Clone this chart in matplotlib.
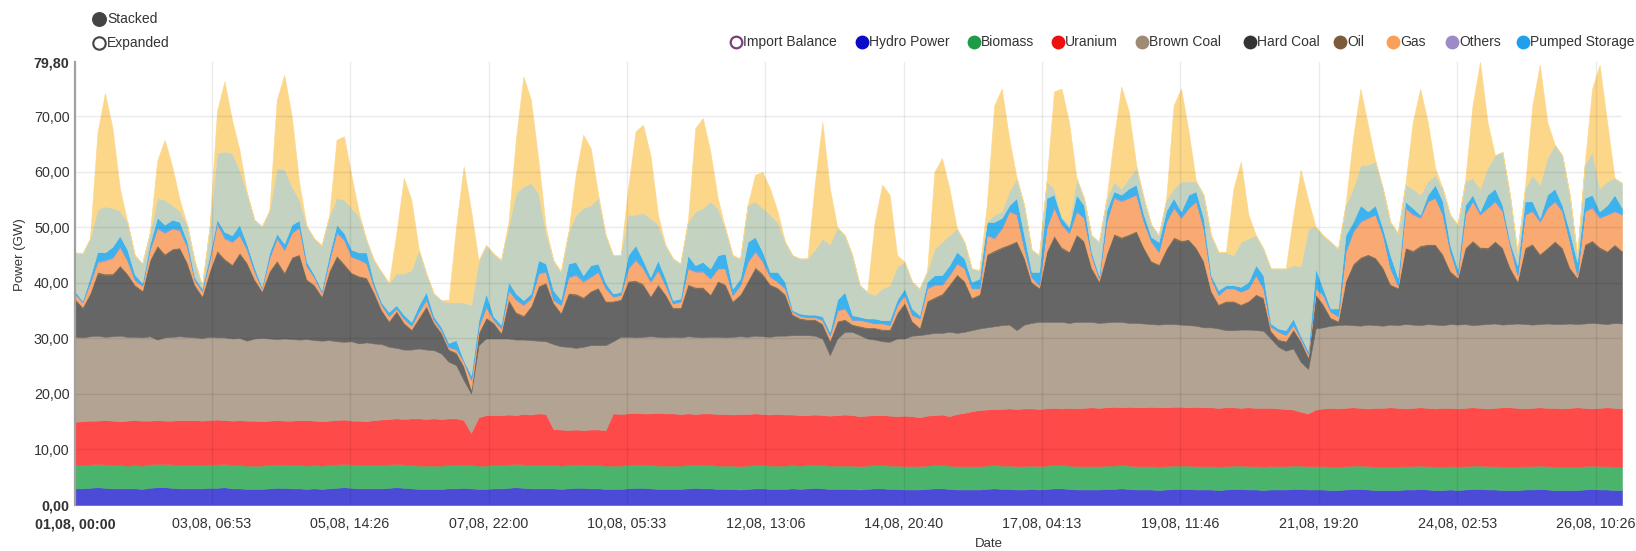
import numpy as np
import matplotlib
matplotlib.use("Agg")
import matplotlib.pyplot as plt

plt.rcParams['font.family'] = ['Liberation Sans', 'DejaVu Sans']

# ---------------- data (GW, every 3 hours from 01.08 00:00) -------------
hours = list(range(0, 622, 3))

# upper edge of each stacked band (cumulative), 8 readings per day
hydro_top = [
 3.0,3.0,3.1,3.2,3.1,3.0,3.0,3.0,  3.0,2.9,3.1,3.2,3.2,3.1,3.0,3.0,
 3.0,3.0,3.1,3.1,3.2,3.0,3.0,2.9,  2.9,2.9,3.0,3.1,3.1,3.0,3.0,2.9,
 3.0,2.9,3.0,3.1,3.2,3.1,3.0,3.0,  3.0,3.0,3.1,3.2,3.1,3.0,2.9,2.9,
 2.9,2.9,3.0,3.0,3.1,3.0,2.9,2.9,  3.0,3.0,3.1,3.2,3.1,3.0,3.0,3.0,
 3.0,2.9,3.0,3.1,3.1,3.0,3.0,2.9,  2.9,2.9,3.0,3.1,3.1,3.0,2.9,2.9,
 2.9,2.9,3.0,3.1,3.0,3.0,2.9,2.9,  2.9,2.8,2.9,3.0,3.0,2.9,2.9,2.9,
 3.0,2.9,3.0,3.1,3.0,2.9,2.9,2.9,  2.9,2.8,2.9,3.0,3.0,2.9,2.9,2.8,
 2.8,2.8,2.9,3.0,3.0,2.9,2.8,2.8,  2.8,2.8,2.9,3.0,2.9,2.9,2.8,2.8,
 2.9,2.8,2.9,3.0,3.0,2.9,2.8,2.8,  2.8,2.8,2.9,2.9,3.0,2.9,2.8,2.8,
 2.8,2.7,2.8,2.9,2.9,2.9,2.8,2.8,  2.8,2.7,2.8,2.9,2.9,2.8,2.8,2.7,
 2.8,2.8,2.8,2.9,2.9,2.8,2.8,2.8,  2.7,2.7,2.8,2.9,2.9,2.8,2.7,2.7,
 2.7,2.7,2.8,2.8,2.9,2.8,2.7,2.7,  2.8,2.7,2.8,2.9,2.9,2.8,2.8,2.7,
 2.7,2.7,2.8,2.8,2.9,2.8,2.7,2.7,  2.7,2.7,2.8,2.9,2.8,2.8,2.7,2.7,
]
biomass_top = [
 7.2,7.2,7.3,7.4,7.3,7.2,7.2,7.1,  7.2,7.1,7.3,7.4,7.4,7.3,7.2,7.2,
 7.2,7.2,7.3,7.3,7.4,7.2,7.2,7.1,  7.1,7.1,7.2,7.3,7.3,7.2,7.2,7.1,
 7.2,7.1,7.2,7.3,7.4,7.3,7.2,7.2,  7.2,7.2,7.3,7.4,7.3,7.2,7.1,7.1,
 7.1,7.1,7.2,7.2,7.3,7.2,7.1,7.1,  7.2,7.2,7.3,7.4,7.3,7.2,7.2,7.2,
 7.2,7.1,7.2,7.3,7.3,7.2,7.2,7.1,  7.1,7.1,7.2,7.3,7.3,7.2,7.1,7.1,
 7.1,7.1,7.2,7.3,7.2,7.2,7.1,7.1,  7.1,7.0,7.1,7.2,7.2,7.1,7.1,7.1,
 7.2,7.1,7.2,7.3,7.2,7.1,7.1,7.1,  7.1,7.0,7.1,7.2,7.2,7.1,7.1,7.0,
 7.0,7.0,7.1,7.2,7.2,7.1,7.0,7.0,  7.0,7.0,7.1,7.2,7.1,7.1,7.0,7.0,
 7.1,7.0,7.1,7.2,7.2,7.1,7.0,7.0,  7.0,7.0,7.1,7.1,7.2,7.1,7.0,7.0,
 7.0,6.9,7.0,7.1,7.1,7.1,7.0,7.0,  7.0,6.9,7.0,7.1,7.1,7.0,7.0,6.9,
 7.0,7.0,7.0,7.1,7.1,7.0,7.0,7.0,  6.9,6.9,7.0,7.1,7.1,7.0,6.9,6.9,
 6.9,6.9,7.0,7.0,7.1,7.0,6.9,6.9,  7.0,6.9,7.0,7.1,7.1,7.0,7.0,6.9,
 6.9,6.9,7.0,7.0,7.1,7.0,6.9,6.9,  6.9,6.9,7.0,7.1,7.0,7.0,6.9,6.9,
]
uranium_top = [
 15.0,15.1,15.2,15.2,15.3,15.2,15.1,15.2,  15.3,15.2,15.2,15.3,15.2,15.2,15.3,15.3,
 15.3,15.2,15.3,15.4,15.3,15.2,15.3,15.2,  15.2,15.1,15.2,15.3,15.2,15.2,15.3,15.3,
 15.2,15.1,15.2,15.3,15.4,15.2,15.2,15.1,  15.3,15.4,15.5,15.6,15.5,15.6,15.6,15.5,
 15.6,15.5,15.6,15.6,15.3,13.0,15.8,16.2,  16.2,16.2,16.3,16.2,16.4,16.3,16.5,16.4,
 13.7,13.6,13.5,13.6,13.5,13.6,13.6,13.5,  16.5,16.4,16.5,16.6,16.5,16.5,16.6,16.5,
 16.5,16.4,16.5,16.4,16.5,16.5,16.4,16.4,  16.3,16.4,16.4,16.5,16.4,16.3,16.4,16.3,
 16.3,16.2,16.2,16.3,16.2,16.1,16.2,16.3,  16.2,16.0,16.1,16.2,16.2,16.1,16.0,16.1,
 16.0,15.8,16.1,16.2,16.3,16.0,16.4,16.6,  16.9,17.1,17.2,17.3,17.3,17.4,17.3,17.4,
 17.4,17.3,17.4,17.5,17.4,17.5,17.4,17.5,  17.6,17.5,17.6,17.7,17.6,17.7,17.6,17.6,
 17.7,17.6,17.6,17.7,17.7,17.6,17.7,17.6,  17.6,17.5,17.6,17.6,17.5,17.6,17.5,17.5,
 17.5,17.4,17.3,17.2,16.8,16.5,17.2,17.4,  17.5,17.4,17.5,17.6,17.5,17.4,17.5,17.5,
 17.6,17.5,17.4,17.5,17.6,17.5,17.4,17.5,  17.5,17.4,17.5,17.6,17.5,17.4,17.5,17.6,
 17.6,17.5,17.4,17.5,17.6,17.5,17.5,17.4,  17.5,17.6,17.5,17.4,17.5,17.6,17.5,17.4,
]
brown_coal_top = [
 30.3,30.2,30.4,30.5,30.3,30.4,30.5,30.3,  30.3,30.2,30.4,29.8,30.2,30.3,30.4,30.3,
 30.2,30.1,30.3,30.2,30.2,30.0,30.1,29.6,  30.0,30.1,30.0,29.9,30.0,29.9,29.8,29.9,
 29.7,29.6,29.7,29.5,29.4,29.5,29.1,29.3,  29.1,29.0,28.5,28.3,28.0,28.0,28.2,28.0,
 27.9,27.3,25.8,25.2,22.5,20.1,28.8,30.0,  30.0,30.0,30.0,29.8,29.8,29.7,29.6,29.5,
 29.0,28.6,28.5,28.3,28.5,28.8,28.8,28.8,  29.5,30.3,30.3,30.2,30.3,30.4,30.3,30.2,
 30.3,30.2,30.4,30.3,30.2,30.3,30.3,30.2,  30.3,30.4,30.3,30.5,30.4,30.3,30.5,30.5,
 30.6,30.6,30.6,30.5,30.0,27.0,30.0,31.2,  31.2,30.6,30.0,29.8,29.5,29.4,30.0,30.0,
 30.5,30.6,30.8,31.0,31.0,31.2,31.0,31.2,  31.5,31.8,32.0,32.2,32.4,32.5,31.5,32.5,
 32.8,33.0,33.0,33.0,33.0,32.8,33.0,33.0,  33.0,32.8,32.9,33.0,33.0,32.8,32.8,32.7,
 32.6,32.5,32.6,32.6,32.5,32.4,32.3,32.0,  32.0,31.8,31.5,31.5,31.6,31.6,31.5,31.4,
 30.0,28.5,27.8,28.2,25.8,24.5,31.8,32.0,  32.3,32.4,32.5,32.4,32.3,32.5,32.4,32.3,
 32.5,32.4,32.6,32.5,32.4,32.6,32.5,32.4,  32.6,32.5,32.6,32.4,32.5,32.6,32.7,32.5,
 32.6,32.7,32.6,32.5,32.6,32.7,32.6,32.6,  32.7,32.6,32.7,32.8,32.7,32.6,32.8,32.7,
]
hard_coal_top = [
 37.0,35.5,38.0,41.7,41.4,41.5,43.0,41.5,  39.5,38.5,44.0,46.5,45.0,46.0,46.2,43.5,
 39.5,37.5,42.0,45.6,44.1,43.2,45.3,43.5,  40.5,38.4,42.0,43.8,41.7,44.5,45.0,40.5,
 39.5,37.5,42.0,44.7,43.2,41.7,41.1,40.8,  38.1,35.0,33.0,34.8,32.7,31.5,33.6,35.7,
 32.7,30.9,27.9,27.3,24.9,20.7,30.9,33.6,  32.7,30.9,36.9,34.5,33.9,35.7,39.3,39.9,
 36.3,34.5,38.0,37.8,37.2,38.4,39.0,36.6,  36.6,36.9,40.2,40.2,39.6,37.5,39.6,37.8,
 35.4,35.4,39.6,39.0,39.0,37.8,40.2,39.6,  36.6,37.8,40.2,42.6,41.4,39.6,39.0,37.8,
 34.2,33.5,33.3,33.3,32.5,29.5,33.0,33.3,  32.4,32.1,31.8,31.8,31.5,31.5,34.5,36.3,
 33.0,31.8,36.6,37.2,37.8,39.6,41.4,40.2,  37.2,37.8,45.0,45.6,46.2,46.8,47.4,44.4,
 40.0,39.0,45.5,48.3,46.2,45.5,48.6,47.4,  42.6,40.2,45.0,48.6,48.0,48.6,49.2,46.2,
 43.8,43.2,46.0,48.0,47.4,47.7,46.2,43.8,  38.4,36.0,36.6,36.6,36.0,36.6,37.8,37.2,
 31.2,29.7,29.4,31.5,29.4,26.5,37.8,36.0,  33.6,33.0,40.2,43.2,44.4,45.0,44.4,42.6,
 39.6,39.0,46.2,45.6,46.5,46.8,46.8,45.0,  42.0,40.8,46.2,47.4,46.2,46.2,47.4,46.2,
 42.6,40.2,46.2,46.8,45.0,46.2,47.4,46.2,  42.6,40.8,46.8,47.4,46.2,45.6,46.8,45.6,
]
oil = [
 0.2,0.2,0.2,0.3,0.3,0.2,0.2,0.2,  0.2,0.2,0.2,0.3,0.3,0.2,0.2,0.2,
 0.2,0.2,0.2,0.3,0.3,0.2,0.2,0.2,  0.2,0.2,0.2,0.3,0.3,0.2,0.2,0.2,
 0.2,0.2,0.2,0.3,0.3,0.2,0.2,0.2,  0.2,0.2,0.2,0.2,0.2,0.2,0.2,0.2,
 0.2,0.2,0.2,0.2,0.2,0.2,0.2,0.2,  0.2,0.2,0.2,0.3,0.3,0.2,0.2,0.2,
 0.2,0.2,0.2,0.3,0.3,0.2,0.2,0.2,  0.2,0.2,0.2,0.3,0.3,0.2,0.2,0.2,
 0.2,0.2,0.2,0.3,0.3,0.2,0.2,0.2,  0.2,0.2,0.2,0.3,0.3,0.2,0.2,0.2,
 0.2,0.2,0.2,0.2,0.2,0.2,0.2,0.2,  0.2,0.2,0.2,0.2,0.2,0.2,0.2,0.2,
 0.2,0.2,0.2,0.3,0.3,0.2,0.2,0.2,  0.2,0.2,0.2,0.3,0.3,0.2,0.2,0.2,
 0.2,0.2,0.2,0.3,0.3,0.2,0.2,0.2,  0.2,0.2,0.2,0.3,0.3,0.2,0.2,0.2,
 0.2,0.2,0.2,0.3,0.3,0.2,0.2,0.2,  0.2,0.2,0.2,0.2,0.2,0.2,0.2,0.2,
 0.2,0.2,0.2,0.2,0.2,0.2,0.2,0.2,  0.2,0.2,0.2,0.3,0.3,0.2,0.2,0.2,
 0.2,0.2,0.2,0.3,0.3,0.2,0.2,0.2,  0.2,0.2,0.2,0.3,0.3,0.2,0.2,0.2,
 0.2,0.2,0.2,0.3,0.3,0.2,0.2,0.2,  0.2,0.2,0.2,0.3,0.3,0.2,0.2,0.2,
]
gas_top = [
 38.0,36.5,40.0,43.7,44.0,44.5,46.5,44.0,  40.5,39.5,46.0,49.8,49.0,49.8,49.5,46.5,
 40.5,38.5,44.0,50.7,48.0,47.4,48.6,46.0,  42.0,39.0,44.5,48.0,45.9,49.0,50.0,43.0,
 41.0,38.3,44.0,49.0,47.7,44.7,44.2,43.5,  39.3,36.0,34.0,35.4,33.5,32.3,34.8,37.0,
 33.3,31.5,28.4,28.0,25.8,22.5,32.1,35.7,  33.3,31.8,38.7,36.9,36.0,37.2,41.7,42.0,
 36.9,36.0,41.0,41.4,40.2,41.1,42.0,39.0,  37.5,37.8,42.6,44.1,42.6,40.2,42.3,39.6,
 36.3,36.6,42.6,42.0,42.0,40.8,42.6,42.6,  37.8,39.6,43.8,45.6,43.8,41.1,40.2,39.0,
 34.8,34.0,33.8,33.8,33.3,30.5,35.0,35.4,  33.3,33.3,33.0,32.7,32.7,32.4,36.0,37.8,
 34.2,33.6,39.0,39.6,39.6,41.4,43.5,42.6,  39.0,39.0,48.6,48.0,49.8,52.9,52.3,46.2,
 41.0,39.6,50.0,53.5,50.5,49.0,52.9,51.7,  45.0,40.8,51.0,55.3,54.7,55.3,55.9,51.0,
 47.4,45.6,51.0,53.5,51.7,53.5,54.7,49.8,  40.8,37.8,39.0,39.0,38.4,39.0,41.4,39.0,
 32.1,31.2,30.6,32.4,30.0,27.2,39.0,37.8,  34.8,34.0,45.6,49.2,51.0,51.7,52.3,48.6,
 42.6,39.5,53.5,52.3,51.7,54.7,55.3,52.3,  45.6,41.4,52.3,54.7,52.3,53.5,54.7,52.9,
 46.8,41.4,52.3,52.9,51.0,53.5,54.7,52.9,  47.4,41.4,52.9,53.5,51.7,52.3,52.9,52.3,
]
others = [
 0.1,0.1,0.1,0.2,0.2,0.1,0.1,0.1,  0.1,0.1,0.1,0.2,0.2,0.1,0.1,0.1,
 0.1,0.1,0.1,0.2,0.2,0.1,0.1,0.1,  0.1,0.1,0.1,0.2,0.2,0.1,0.1,0.1,
 0.1,0.1,0.1,0.2,0.2,0.1,0.1,0.1,  0.1,0.1,0.1,0.1,0.1,0.1,0.1,0.1,
 0.1,0.1,0.1,0.1,0.1,0.1,0.1,0.1,  0.1,0.1,0.1,0.2,0.2,0.1,0.1,0.1,
 0.1,0.1,0.1,0.2,0.2,0.1,0.1,0.1,  0.1,0.1,0.1,0.2,0.2,0.1,0.1,0.1,
 0.1,0.1,0.1,0.2,0.2,0.1,0.1,0.1,  0.1,0.1,0.1,0.2,0.2,0.1,0.1,0.1,
 0.1,0.1,0.1,0.1,0.1,0.1,0.1,0.1,  0.1,0.1,0.1,0.1,0.1,0.1,0.1,0.1,
 0.1,0.1,0.1,0.2,0.2,0.1,0.1,0.1,  0.1,0.1,0.1,0.2,0.2,0.1,0.1,0.1,
 0.1,0.1,0.1,0.2,0.2,0.1,0.1,0.1,  0.1,0.1,0.1,0.2,0.2,0.1,0.1,0.1,
 0.1,0.1,0.1,0.2,0.2,0.1,0.1,0.1,  0.1,0.1,0.1,0.1,0.1,0.1,0.1,0.1,
 0.1,0.1,0.1,0.1,0.1,0.1,0.1,0.1,  0.1,0.1,0.1,0.2,0.2,0.1,0.1,0.1,
 0.1,0.1,0.1,0.2,0.2,0.1,0.1,0.1,  0.1,0.1,0.1,0.2,0.2,0.1,0.1,0.1,
 0.1,0.1,0.1,0.2,0.2,0.1,0.1,0.1,  0.1,0.1,0.1,0.2,0.2,0.1,0.1,0.1,
]
pumped_top = [
 38.5,36.8,41.0,45.6,45.5,46.5,48.5,46.0,  41.5,40.0,47.0,51.8,50.5,51.4,51.0,47.5,
 41.0,39.0,45.0,51.5,49.2,48.6,50.5,47.0,  42.8,39.3,45.5,48.9,47.1,50.5,51.3,43.8,
 41.5,38.7,45.0,50.5,49.0,46.0,45.5,45.5,  40.0,36.5,34.8,36.0,34.3,33.0,36.0,38.4,
 34.0,32.1,29.2,29.7,26.1,23.4,33.3,38.1,  34.0,32.5,40.2,38.1,36.9,38.1,44.1,43.5,
 38.7,37.0,43.5,43.8,41.4,43.2,43.5,40.0,  38.1,38.4,45.0,46.8,44.1,41.1,44.1,40.8,
 36.9,37.2,45.0,43.2,43.8,42.6,45.0,45.3,  39.0,40.8,47.4,48.3,45.6,42.0,42.0,40.2,
 35.1,34.5,34.3,34.3,34.0,31.2,37.0,38.4,  34.2,33.9,33.6,33.6,33.3,33.3,37.0,39.0,
 35.4,34.2,40.2,41.4,41.4,43.2,45.6,44.4,  40.2,40.8,51.0,51.0,51.7,54.0,55.3,48.6,
 42.0,42.0,55.3,55.9,51.7,50.0,55.9,54.0,  45.6,41.4,53.0,56.5,55.9,57.0,57.7,52.3,
 48.3,47.4,53.0,55.3,52.9,55.9,56.5,51.7,  41.4,38.7,39.6,39.6,39.3,40.2,43.2,41.4,
 32.7,31.8,31.5,33.6,30.5,27.8,42.6,39.0,  35.4,35.4,48.6,51.0,54.0,52.9,54.0,49.8,
 45.0,41.0,54.7,53.5,52.3,55.9,57.7,54.7,  46.8,42.6,54.0,55.9,52.9,55.9,57.0,54.0,
 47.4,43.2,54.7,54.7,51.7,55.9,57.0,54.0,  49.2,43.8,55.3,55.9,52.9,54.0,55.9,53.5,
]
wind_top = [
 45.5,45.3,48.0,53.2,53.8,53.5,53.0,51.0,  45.0,43.5,49.0,55.3,55.0,54.0,53.0,50.5,
 44.0,39.5,50.0,63.4,63.7,63.4,60.4,56.2,  51.4,50.2,53.0,60.7,60.5,57.4,55.0,50.2,
 48.0,46.8,52.0,55.3,55.0,53.5,52.0,47.7,  44.1,42.0,40.0,41.7,41.7,42.3,46.0,41.7,
 38.1,36.9,36.5,36.5,36.5,36.0,44.0,46.8,  45.3,44.1,50.2,56.2,57.4,58.0,56.2,49.0,
 44.1,42.0,49.0,52.3,53.5,54.0,55.3,48.6,  45.0,45.0,52.3,52.3,52.6,51.7,50.5,46.8,
 44.4,43.5,51.0,52.9,53.5,54.7,53.5,49.8,  45.0,44.4,54.0,54.7,53.5,52.3,51.0,47.4,
 45.0,44.4,44.4,46.0,48.0,47.0,50.0,48.6,  45.0,39.6,38.4,37.8,39.0,39.6,43.0,43.8,
 40.2,39.0,42.0,46.2,47.4,48.6,49.8,47.4,  42.6,42.3,51.0,52.3,52.9,56.5,58.9,54.0,
 46.0,45.0,58.3,57.0,52.0,50.5,58.9,55.3,  48.6,47.4,55.0,58.3,57.0,58.9,60.7,55.3,
 50.5,48.6,55.0,57.0,58.3,58.3,58.3,55.9,  48.6,45.6,45.6,45.0,47.4,48.0,48.6,46.2,
 42.6,42.6,42.6,43.2,43.0,49.8,50.1,48.6,  47.4,46.2,54.0,57.0,61.3,61.3,61.9,57.0,
 51.0,49.0,57.7,57.0,55.9,58.3,59.5,57.0,  52.3,50.5,58.3,58.9,57.0,60.7,63.0,63.6,
 55.9,45.5,57.0,59.5,57.7,62.5,64.9,63.0,  55.9,45.0,61.3,63.6,57.0,58.3,58.9,58.0,
]
solar_top = [
 45.5,45.3,48.0,67.0,74.2,68.0,57.0,51.0,  45.0,43.5,49.0,62.0,65.8,61.0,55.0,50.5,
 44.0,39.5,50.0,71.0,76.3,69.4,64.0,56.2,  51.4,50.2,53.0,73.0,77.5,70.0,58.0,50.2,
 48.0,46.8,52.0,65.8,66.4,59.2,52.6,47.7,  44.1,42.0,40.0,49.0,58.9,55.0,46.0,41.7,
 38.1,36.9,37.0,50.2,61.0,53.0,44.0,46.8,  45.3,44.1,51.0,66.0,77.2,73.0,62.2,50.0,
 44.1,42.0,49.0,59.5,66.7,64.3,56.0,48.6,  45.0,45.0,57.0,67.3,68.5,63.0,52.3,46.8,
 44.4,43.5,51.0,67.9,69.7,63.7,55.3,49.8,  45.0,44.4,54.0,59.5,60.0,57.0,52.9,47.4,
 45.0,44.4,44.4,58.0,69.0,57.0,50.0,48.6,  45.0,39.6,38.4,51.0,57.7,55.9,45.0,43.8,
 40.2,39.0,42.0,60.0,62.5,57.0,49.8,47.4,  42.6,42.3,54.0,72.0,75.0,66.0,58.9,54.0,
 46.0,45.0,58.3,74.5,75.0,69.0,58.9,55.3,  48.6,47.4,55.0,66.0,75.4,70.9,61.3,55.3,
 50.5,48.6,55.0,72.0,75.0,67.3,58.3,55.9,  48.6,45.6,45.6,57.0,61.9,52.3,48.6,46.2,
 42.6,42.6,42.6,52.0,60.4,55.0,50.1,48.6,  47.4,46.2,54.0,66.0,75.0,68.5,61.9,57.0,
 51.0,49.0,57.7,69.0,75.0,69.0,60.7,57.0,  52.3,50.5,58.3,72.0,79.8,69.0,63.0,63.6,
 55.9,45.5,57.0,72.0,79.3,69.0,64.9,63.0,  55.9,45.0,61.3,75.0,79.3,69.0,58.9,58.0,
]

legend_names = ["Import Balance", "Hydro Power", "Biomass", "Uranium", "Brown Coal",
                "Hard Coal", "Oil", "Gas", "Others", "Pumped Storage"]
tick_labels = ["01,08, 00:00", "03,08, 06:53", "05,08, 14:26", "07,08, 22:00",
               "10,08, 05:33", "12,08, 13:06", "14,08, 20:40", "17,08, 04:13",
               "19,08, 11:46", "21,08, 19:20", "24,08, 02:53", "26,08, 10:26"]
y_ticks = [0, 10, 20, 30, 40, 50, 60, 70, 79.8]
y_tick_labels = ["0,00", "10,00", "20,00", "30,00", "40,00", "50,00", "60,00", "70,00", "79,80"]

# ---------------- styling ---------------------------------------------------------------
area_colors = ['#4b4bd8', '#4bb46c', '#ff4a4a', '#b2a392', '#666666', '#8b6e4e',
               '#f8aa72', '#a896cc', '#3db3ee', '#c4d3c1', '#fcd789']
marker_colors = ['none', '#0a0ac8', '#1c9c45', '#ee1010', '#a08a74', '#333333',
                 '#7b5b3b', '#f8a05a', '#9f8ac8', '#1ea0ec']
text_col = '#333333'

# layer thicknesses from the band edges
tops = [np.array(hydro_top), np.array(biomass_top), np.array(uranium_top),
        np.array(brown_coal_top), np.array(hard_coal_top)]
hc = np.array(hard_coal_top)
oil_a = np.array(oil)
gas_a = np.array(gas_top) - hc - oil_a
oth_a = np.array(others)
pump_a = np.array(pumped_top) - np.array(gas_top) - oth_a
wind_a = np.array(wind_top) - np.array(pumped_top)
solar_a = np.array(solar_top) - np.array(wind_top)
base_layers = [tops[0]] + [tops[i] - tops[i - 1] for i in range(1, 5)]
layers = base_layers + [oil_a, gas_a, oth_a, pump_a, wind_a, solar_a]

W, H = 1636, 551
fig = plt.figure(figsize=(W / 100, H / 100), dpi=100)
ax_l, ax_r, ax_t, ax_b = 75, 1622, 62, 505
ax = fig.add_axes([ax_l / W, (H - ax_b) / H, (ax_r - ax_l) / W, (ax_b - ax_t) / H])

ax.stackplot(hours, *layers, colors=area_colors, linewidth=0.4, edgecolor='face', zorder=2)

ax.set_xlim(hours[0], hours[-1])
ax.set_ylim(0, 79.8)


def parse_tick(s):
    d, rest = s.split(",", 1)
    hh, mm = rest.split(",")[1].strip().split(":")
    return (int(d) - 1) * 24 + int(hh) + int(mm) / 60.0


x_ticks = [parse_tick(s) for s in tick_labels]
ax.set_xticks(x_ticks)
ax.set_xticklabels(tick_labels)
ax.set_yticks(y_ticks)
ax.set_yticklabels(y_tick_labels)
ax.tick_params(axis='both', length=0, labelsize=10.3, colors=text_col)
ax.tick_params(axis='x', pad=9)
ax.tick_params(axis='y', pad=4)
for lab in ax.get_xticklabels():
    lab.set_clip_on(False)
ax.get_xticklabels()[0].set_fontweight('bold')
ax.get_yticklabels()[0].set_fontweight('bold')
ax.get_yticklabels()[-1].set_fontweight('bold')

for v in y_ticks[1:-1]:
    ax.axhline(v, color='black', alpha=0.08, lw=1, zorder=3)
for v in x_ticks[1:]:
    ax.axvline(v, color='black', alpha=0.08, lw=1, zorder=3)

for s in ['top', 'right', 'bottom']:
    ax.spines[s].set_visible(False)
ax.spines['left'].set_color('#a0a0a0')
ax.spines['left'].set_linewidth(1.6)
ax.spines['left'].set_zorder(4)

# ---------------- overlay in pixel coordinates for legends and axis titles ------------
ov = fig.add_axes([0, 0, 1, 1], zorder=5)
ov.set_xlim(0, W)
ov.set_ylim(H, 0)
ov.axis('off')

# Stacked / Expanded switch
ov.scatter([99], [19], s=95, color='#444444', zorder=6)
ov.scatter([99], [43], s=80, facecolor='white', edgecolor='#444444', linewidth=1.5, zorder=6)
ov.text(107, 19, "Stacked", fontsize=10, color=text_col, va='center', ha='left')
ov.text(107, 43, "Expanded", fontsize=10, color=text_col, va='center', ha='left')

# series legend
leg_x = [736, 862, 974, 1058, 1142, 1250, 1340, 1393, 1452, 1523]
for xpos, name, col in zip(leg_x, legend_names, marker_colors):
    if col == 'none':
        ov.scatter([xpos], [42], s=70, facecolor='white', edgecolor='#7d3c7d', linewidth=1.6, zorder=6)
    else:
        ov.scatter([xpos], [42], s=80, color=col, zorder=6)
    ov.text(xpos + 7, 42, name, fontsize=10, color=text_col, va='center', ha='left')

ov.text(20, 255, "Power (GW)", fontsize=9.5, color=text_col, rotation=90, va='center', ha='center')
ov.text(989, 544, "Date", fontsize=9.5, color=text_col, va='center', ha='center')

fig.savefig("out.png", dpi=100, facecolor='white')
